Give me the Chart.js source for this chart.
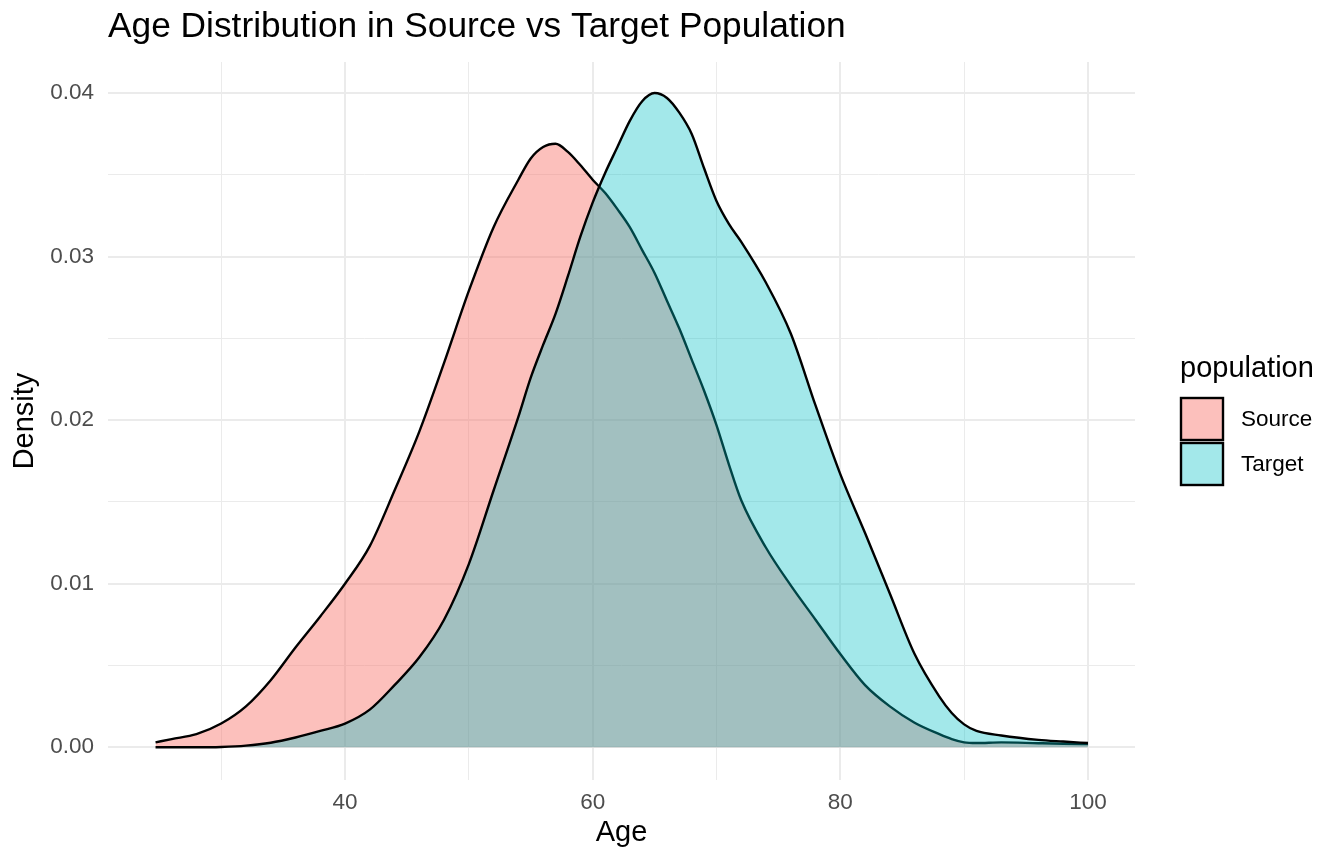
<!DOCTYPE html>
<html>
<head>
<meta charset="utf-8">
<script src="https://cdn.jsdelivr.net/npm/chart.js@4.4.1/dist/chart.umd.min.js"></script>
<style>
  html, body { margin:0; padding:0; background:#fff; }
  #wrap { width:1344px; height:864px; position:relative; }
</style>
</head>
<body>
<div id="wrap"><canvas id="chart"></canvas></div>
<script>
// data (kernel density by age)
const ages = [24.7,26,28,30,32,34,36,38,40,42,44,46,48,50,52,54,55,56,57,58,59,60,61,62,63,64,65,66,67,68,69,70,71,72,74,76,78,80,82,84,86,88,89,90,91,93,96,98,100];
const sourceDensity = [0.0003,0.0005,0.0008,0.00145,0.0025,0.0041,0.0061,0.0080,0.0100,0.0123,0.0157,0.0193,0.0235,0.0279,0.0318,0.0347,0.0360,0.0367,0.0369,0.0364,0.0356,0.0347,0.0339,0.0329,0.0318,0.0304,0.0290,0.0273,0.0256,0.0237,0.0218,0.0197,0.0173,0.0151,0.0122,0.0099,0.0078,0.0057,0.0038,0.0025,0.0015,0.0008,0.0005,0.0003,0.00026,0.0003,0.00025,0.00022,0.0002];
const targetDensity = [0.0000,0.0000,0.0000,0.00002,0.0001,0.00028,0.0006,0.0010,0.00145,0.0023,0.0038,0.0055,0.0078,0.0112,0.0157,0.0202,0.0226,0.0246,0.0265,0.0288,0.0312,0.0333,0.0351,0.0367,0.0383,0.0395,0.0400,0.0397,0.0388,0.0375,0.0354,0.0334,0.0320,0.0309,0.0284,0.0253,0.0209,0.0167,0.0131,0.0094,0.0057,0.0031,0.0021,0.0014,0.0010,0.00072,0.00045,0.00035,0.00026];
const groups = ['Source','Target'];
const xTicks = [30,40,50,60,70,80,90,100];
const yTicks = [0,0.005,0.01,0.015,0.02,0.025,0.03,0.035,0.04];

const FONT = "'Liberation Sans', Arial, Helvetica, sans-serif";
const fills = ['rgba(248,118,109,0.46)','rgba(0,191,196,0.36)'];
const GRID = '#EBEBEB';

const isMajorX = v => v % 20 === 0;
const isMajorY = v => Math.abs(Math.round(v*100) - v*100) < 1e-6;

// legend drawn ggplot-style on the right
const legendPlugin = {
  id:'ggLegend',
  afterDraw(chart) {
    const ctx = chart.ctx;
    ctx.save();
    ctx.fillStyle = '#000';
    ctx.textAlign = 'left';
    ctx.textBaseline = 'alphabetic';
    ctx.font = `29px ${FONT}`;
    ctx.fillText('population', 1180, 377);
    groups.forEach((g,i) => {
      const y = 398 + i*45;
      ctx.fillStyle = '#fff';
      ctx.fillRect(1181, y, 42, 42);
      ctx.fillStyle = fills[i];
      ctx.fillRect(1181, y, 42, 42);
      ctx.strokeStyle = '#000';
      ctx.lineWidth = 2.4;
      ctx.strokeRect(1181, y, 42, 42);
      ctx.fillStyle = '#000';
      ctx.font = `22.5px ${FONT}`;
      ctx.textBaseline = 'middle';
      ctx.fillText(g, 1241, y + 22);
      ctx.textBaseline = 'alphabetic';
    });
    ctx.restore();
  }
};

new Chart(document.getElementById('chart'), {
  type:'line',
  data:{
    datasets:[
      {label:'Source', data:ages.map((a,i)=>({x:a,y:sourceDensity[i]})), backgroundColor:fills[0], borderColor:'#000', borderWidth:2.4, fill:'origin', pointRadius:0, cubicInterpolationMode:'monotone', order:2},
      {label:'Target', data:ages.map((a,i)=>({x:a,y:targetDensity[i]})), backgroundColor:fills[1], borderColor:'#000', borderWidth:2.4, fill:'origin', pointRadius:0, cubicInterpolationMode:'monotone', order:1}
    ]
  },
  options:{
    responsive:true, maintainAspectRatio:false, animation:false,
    layout:{padding:{left:0,right:209,top:0,bottom:0}},
    plugins:{
      legend:{display:false},
      tooltip:{enabled:false},
      title:{display:true, text:'Age Distribution in Source vs Target Population', align:'start', fullSize:false,
        color:'#000', font:{family:FONT,size:35.3,weight:'normal'}, padding:{top:6,bottom:13.6}}
    },
    scales:{
      x:{
        type:'linear', min:20.86, max:103.8,
        afterBuildTicks: s => { s.ticks = xTicks.map(v=>({value:v})); },
        afterFit: s => { s.height = 84; },
        border:{display:false},
        grid:{drawTicks:false, color:GRID, lineWidth: c => isMajorX(c.tick.value) ? 2 : 1},
        ticks:{padding:9, color:'#4D4D4D', font:{family:FONT,size:22.5}, callback: v => isMajorX(v) ? String(v) : ''},
        title:{display:true, text:'Age', color:'#000', font:{family:FONT,size:29}, padding:{top:1,bottom:14}}
      },
      y:{
        min:-0.002, max:0.0419,
        afterBuildTicks: s => { s.ticks = yTicks.map(v=>({value:v})); },
        afterFit: s => { s.width = 108; },
        border:{display:false},
        grid:{drawTicks:false, color:GRID, lineWidth: c => isMajorY(c.tick.value) ? 2 : 1},
        ticks:{padding:14, color:'#4D4D4D', font:{family:FONT,size:22.5}, callback: v => isMajorY(v) ? v.toFixed(2) : ''},
        title:{display:true, text:'Density', color:'#000', font:{family:FONT,size:29}, padding:{top:8,bottom:4}}
      }
    }
  },
  plugins:[legendPlugin]
});
</script>
</body>
</html>
